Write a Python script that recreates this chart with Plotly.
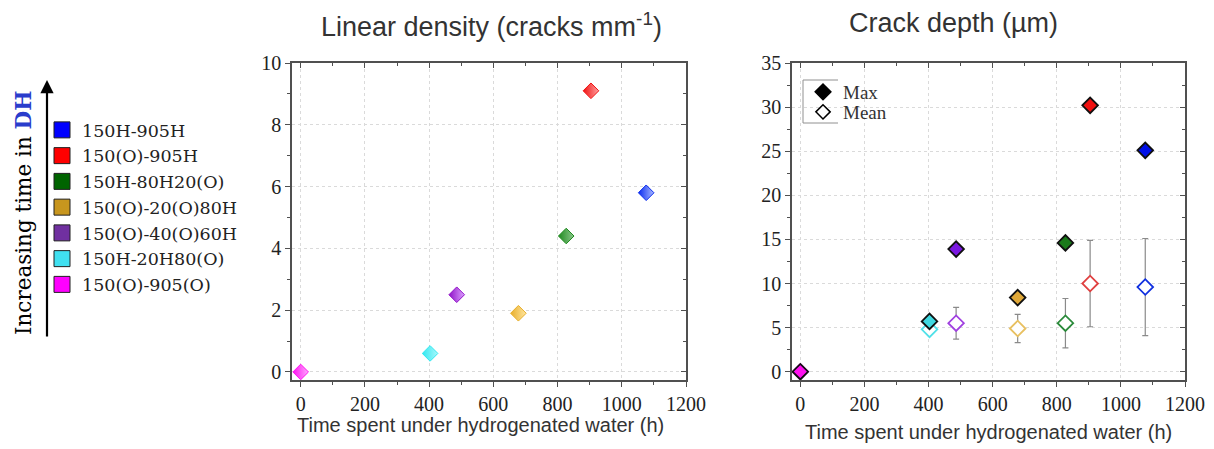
import plotly.graph_objects as go

# ---------------- data ----------------
samples = ["150H-905H", "150(O)-905H", "150H-80H20(O)", "150(O)-20(O)80H",
           "150(O)-40(O)60H", "150H-20H80(O)", "150(O)-905(O)"]
time_h = [1076, 904, 827, 678, 486, 403, 0]
linear_density = [5.8, 9.1, 4.4, 1.9, 2.5, 0.6, 0.0]
depth_max = [25.1, 30.2, 14.6, 8.4, 13.9, 5.7, 0.0]
depth_mean = [9.6, 10.0, 5.5, 4.9, 5.5, 4.8, 0.0]
depth_err = [5.5, 4.9, 2.8, 1.6, 1.8, 0.4, 0.0]

legend_colors = ["#0000ff", "#ff0000", "#006400", "#c8961e", "#7030a0", "#40e0f0", "#ff00ff"]
full_colors = ["#0a2cf0", "#f01010", "#1f8a1f", "#e8ae2a", "#9010c8", "#30e8f0", "#ff10f0"]
light_colors = ["#a8b8ff", "#ffa0a0", "#8cc88c", "#ffe6a0", "#dca0ff", "#a8f8fc", "#ffa8ff"]
max_colors = ["#0010e8", "#f01010", "#1a7a1a", "#e0a838", "#7a18e0", "#40d8e0", "#ff10f0"]
mean_colors = ["#1030e0", "#e04040", "#2a8a3a", "#e8c060", "#a040e0", "#50e0e8", "#ff40ff"]

W, H = 1214, 449
OFF = 8  # page body margin
def px(x): return (x - OFF) / W
def py(y): return 1 - (y - OFF) / H

fig = go.Figure()

# legend (left) – squares (attached to the mirrored-tick axes x3/y3)
for s, c in zip(samples, legend_colors):
    fig.add_trace(go.Scatter(x=[None], y=[None], mode="markers", name=s,
                             marker=dict(symbol="square", size=16, color=c,
                                         line=dict(color="#202020", width=1)),
                             legend="legend", legendgroup=s, xaxis="x3", yaxis="y3"))

# left chart: linear density
for i, s in enumerate(samples):
    fig.add_trace(go.Scatter(x=[time_h[i]], y=[linear_density[i]], mode="markers",
                             showlegend=False, xaxis="x", yaxis="y",
                             marker=dict(symbol="diamond", size=12, color=full_colors[i],
                                         gradient=dict(type="horizontal", color=light_colors[i]),
                                         line=dict(color=full_colors[i], width=1))))

# right chart: mean (open) with error bars
for i, s in enumerate(samples):
    fig.add_trace(go.Scatter(x=[time_h[i]], y=[depth_mean[i]], mode="markers",
                             showlegend=False, xaxis="x2", yaxis="y2",
                             error_y=dict(type="data", array=[depth_err[i]], visible=True,
                                          color="#8a8a8a", thickness=1.2, width=3),
                             marker=dict(symbol="diamond", size=12, color="white",
                                         line=dict(color=mean_colors[i], width=1.8))))
# right chart: max (filled)
for i, s in enumerate(samples):
    fig.add_trace(go.Scatter(x=[time_h[i]], y=[depth_max[i]], mode="markers",
                             showlegend=False, xaxis="x2", yaxis="y2",
                             marker=dict(symbol="diamond", size=12, color=max_colors[i],
                                         line=dict(color="#101010", width=1.8))))

# Max / Mean legend entries
fig.add_trace(go.Scatter(x=[None], y=[None], mode="markers", name="Max", legend="legend2",
                         xaxis="x4", yaxis="y4",
                         marker=dict(symbol="diamond", size=12, color="black",
                                     line=dict(color="black", width=1.5))))
fig.add_trace(go.Scatter(x=[None], y=[None], mode="markers", name="Mean", legend="legend3",
                         xaxis="x4", yaxis="y4",
                         marker=dict(symbol="diamond", size=11, color="white",
                                     line=dict(color="black", width=1.5))))

tickfont = dict(family="Liberation Serif", size=20, color="#222")
common = dict(showline=True, linecolor="#505050", linewidth=1.5, mirror=True,
              ticks="outside", ticklen=5, tickwidth=1.2, tickcolor="#505050",
              showgrid=True, gridcolor="#dadada", griddash="dot", gridwidth=1,
              zeroline=False, tickfont=tickfont, automargin=False)
minor = dict(ticks="outside", ticklen=3, tickcolor="#505050", showgrid=False)
inner = dict(showline=False, ticks="inside", ticklen=5, tickwidth=1.2, tickcolor="#505050",
             showgrid=False, zeroline=False, showticklabels=False, automargin=False)
minor_in = dict(ticks="inside", ticklen=3, tickcolor="#505050", showgrid=False)

ydom = [py(380), py(63)]
small_leg = dict(xanchor="left", yanchor="middle", bgcolor="rgba(0,0,0,0)", itemsizing="trace",
                 font=dict(family="Liberation Serif", size=19, color="#333"))
fig.update_layout(
    width=W, height=H, margin=dict(l=0, r=0, t=0, b=0, pad=0, autoexpand=False),
    paper_bgcolor="white", plot_bgcolor="white",
    xaxis=dict(domain=[px(292), px(686)], range=[-27, 1200], dtick=200, tick0=0,
               anchor="y", minor=dict(dtick=100, **minor), **common),
    yaxis=dict(domain=ydom, range=[-0.26, 10], dtick=2, tick0=0,
               anchor="x", minor=dict(dtick=1, **minor), **common),
    xaxis2=dict(domain=[px(792), px(1185)], range=[-26, 1200], dtick=200, tick0=0,
                anchor="y2", minor=dict(dtick=100, **minor), **common),
    yaxis2=dict(domain=ydom, range=[-0.94, 35], dtick=5, tick0=0,
                anchor="x2", minor=dict(dtick=2.5, **minor), **common),
    xaxis3=dict(overlaying="x", side="top", anchor="y3", range=[-27, 1200], dtick=200,
                tick0=0, minor=dict(dtick=100, **minor_in), **inner),
    yaxis3=dict(overlaying="y", side="right", anchor="x3", range=[-0.26, 10], dtick=2,
                tick0=0, minor=dict(dtick=1, **minor_in), **inner),
    xaxis4=dict(overlaying="x2", side="top", anchor="y4", range=[-26, 1200], dtick=200,
                tick0=0, minor=dict(dtick=100, **minor_in), **inner),
    yaxis4=dict(overlaying="y2", side="right", anchor="x4", range=[-0.94, 35], dtick=5,
                tick0=0, minor=dict(dtick=2.5, **minor_in), **inner),
    legend=dict(x=px(42), y=py(112), xanchor="left", yanchor="top",
                font=dict(family="DejaVu Serif", size=17.5, color="#222"),
                bgcolor="rgba(0,0,0,0)", traceorder="grouped", tracegroupgap=0,
                itemsizing="trace"),
    legend2=dict(x=px(803), y=py(92), **small_leg),
    legend3=dict(x=px(803), y=py(112), **small_leg),
    showlegend=True,
)

title_font = dict(family="Liberation Sans", size=27, color="#333")
axis_font = dict(family="Liberation Sans", size=20, color="#333")
ann = dict(xref="paper", yref="paper", showarrow=False, xanchor="center", yanchor="middle")
fig.add_annotation(text="Linear density (cracks mm<sup>-1</sup>)", x=px(491), y=py(25),
                   font=title_font, **ann)
fig.add_annotation(text="Crack depth (µm)", x=px(953), y=py(23), font=title_font, **ann)
fig.add_annotation(text="Time spent under hydrogenated water (h)", x=px(480), y=py(425),
                   font=axis_font, **ann)
fig.add_annotation(text="Time spent under hydrogenated water (h)", x=px(989), y=py(432),
                   font=axis_font, **ann)
fig.add_annotation(text="Increasing time in <b><span style='color:#2a3ccc'>DH</span></b>",
                   x=px(23), y=py(213), textangle=-90,
                   font=dict(family="DejaVu Serif", size=21.5, color="black"), **ann)
fig.add_annotation(text="", x=px(47), y=py(80), xref="paper", yref="paper",
                   showarrow=True, ax=0, ay=258, arrowhead=2, arrowsize=1.2,
                   arrowwidth=2.2, arrowcolor="black", standoff=0)

# partial frame of the Max/Mean legend
fig.add_shape(type="path", xref="paper", yref="paper",
              path=f"M {px(838)},{py(80)} L {px(803)},{py(80)} L {px(803)},{py(123)} L {px(838)},{py(123)}",
              line=dict(color="#909090", width=1))

fig.write_html("out.html")
